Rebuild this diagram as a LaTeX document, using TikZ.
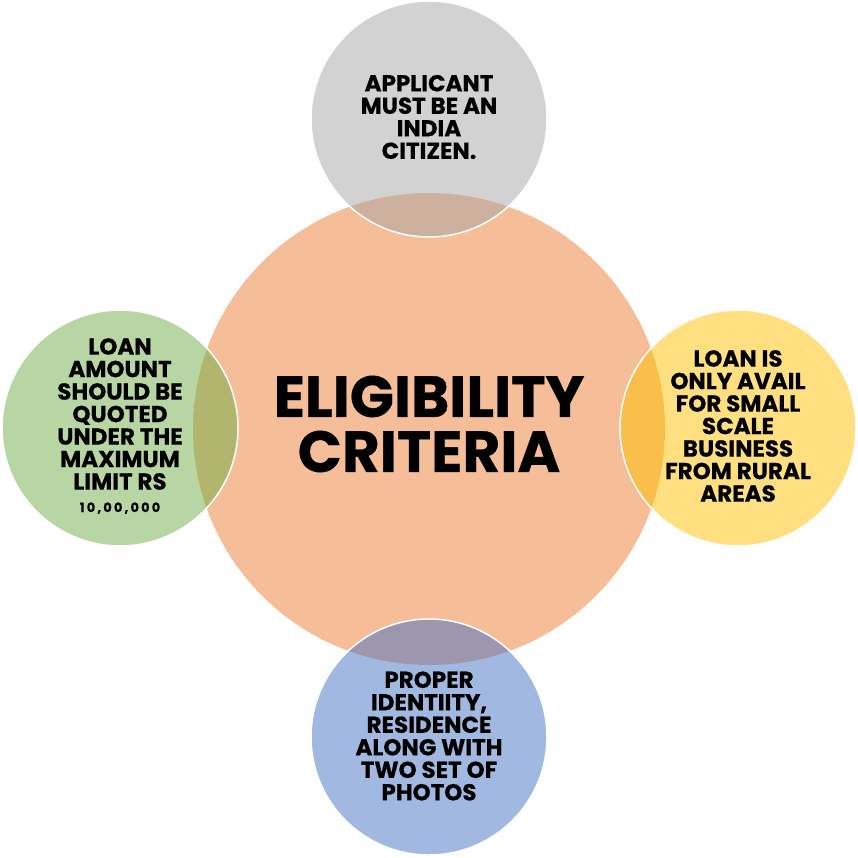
\documentclass[tikz,border=0pt]{standalone}
\usepackage{fontspec}
\setmainfont{Poppins}
\newfontfamily\heavy{Poppins}[FakeBold=0.6]
\definecolor{corange}{HTML}{ED7D31}
\definecolor{cgrey}{HTML}{A5A5A5}
\definecolor{cgreen}{HTML}{70AD47}
\definecolor{cyellow}{HTML}{FFC000}
\definecolor{cblue}{HTML}{4472C4}
\begin{document}
\begin{tikzpicture}[x=1pt,y=-1pt,
  hub/.style={circle, fill=corange, fill opacity=0.5, draw=none, minimum size=472pt, inner sep=0pt},
  sat/.style={circle, fill opacity=0.5, draw=white, draw opacity=1, line width=1.5pt, minimum size=236pt, inner sep=0pt},
  lbl/.style={text=black, align=center, inner sep=0pt, font=\heavy\bfseries\fontsize{23}{22.5}\selectfont},
  title/.style={text=black, align=center, inner sep=0pt, font=\heavy\bfseries\fontsize{58}{55}\selectfont}]
\useasboundingbox (0,0) rectangle (858,858);
\node[hub] (hub) at (429,429) {};
\node[sat, fill=cgrey] (top) at (429,119) {};
\node[sat, fill=cgreen] (left) at (120,428) {};
\node[sat, fill=cyellow] (right) at (738,428) {};
\node[sat, fill=cblue] (bottom) at (429,737) {};
\node[title] (ttitle) at (429,424) {ELIGIBILITY\\CRITERIA};
\node[lbl] (ttop) at (429,117) {APPLICANT\\MUST BE AN\\INDIA\\CITIZEN.};
\node[lbl] (tleft) at (120,426) {LOAN\\AMOUNT\\SHOULD BE\\QUOTED\\UNDER THE\\MAXIMUM\\LIMIT RS\\{\fontsize{13}{15}\selectfont 1\,0\,,\,0\,0\,,\,0\,0\,0}};
\node[lbl] (tright) at (738,426) {LOAN IS\\ONLY AVAIL\\FOR SMALL\\SCALE\\BUSINESS\\FROM RURAL\\AREAS};
\node[lbl] (tbottom) at (429,736) {PROPER\\IDENTIITY,\\RESIDENCE\\ALONG WITH\\TWO SET OF\\PHOTOS};
\end{tikzpicture}
\end{document}
